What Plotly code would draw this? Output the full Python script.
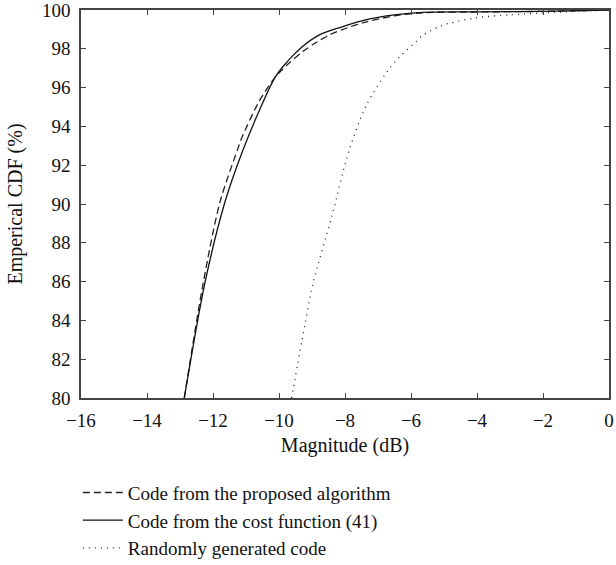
import plotly.graph_objects as go

# Data
proposed_x = [-12.87, -12.30, -11.79, -11.27, -11.13, -10.60, -10.13, -9.70, -9.27, -8.85, -8.46, -7.90, -7.35, -6.50, -5.64, -4.0, -2.0, 0.0]
proposed_y = [80.0, 85.9, 90.09, 92.74, 93.4, 95.3, 96.5, 97.25, 97.87, 98.35, 98.73, 99.1, 99.39, 99.7, 99.86, 99.9, 99.93, 100.0]

cost_x = [-12.87, -12.25, -11.64, -11.10, -10.55, -10.13, -9.87, -9.55, -9.27, -8.76, -8.11, -7.35, -6.50, -5.64, -4.0, -2.0, 0.0]
cost_y = [80.0, 85.9, 90.09, 92.74, 95.0, 96.5, 97.1, 97.7, 98.15, 98.73, 99.12, 99.5, 99.75, 99.88, 99.9, 99.93, 100.0]

random_x = [-9.62, -9.30, -8.97, -8.41, -7.88, -7.35, -6.65, -6.34, -5.84, -5.64, -5.13, -4.83, -4.02, -3.01, -2.10, -1.0, 0.0]
random_y = [80.0, 83.0, 85.9, 89.3, 92.74, 95.1, 97.0, 97.6, 98.38, 98.7, 99.15, 99.32, 99.6, 99.75, 99.84, 99.93, 100.0]

x_ticks = [-16, -14, -12, -10, -8, -6, -4, -2, 0]
y_ticks = [80, 82, 84, 86, 88, 90, 92, 94, 96, 98, 100]

names = ["Code from the proposed algorithm", "Code from the cost function (41)", "Randomly generated code"]

FONT = "Liberation Serif"
FS = 19

fig = go.Figure()
fig.add_trace(go.Scatter(x=proposed_x, y=proposed_y, mode="lines", name=names[0], legendgroup="a",
                         line=dict(color="#222", width=1.3, dash="7px,4px", shape="spline", smoothing=0.8)))
fig.add_trace(go.Scatter(x=cost_x, y=cost_y, mode="lines", name=names[1], legendgroup="b",
                         line=dict(color="#111", width=1.3, shape="spline", smoothing=0.8)))
fig.add_trace(go.Scatter(x=random_x, y=random_y, mode="lines", name=names[2], legendgroup="c",
                         line=dict(color="#222", width=1.3, dash="1px,5px", shape="spline", smoothing=0.8)))

axis_common = dict(showgrid=False, zeroline=False, showline=True, linecolor="#444", linewidth=1.5,
                   mirror="ticks", ticks="inside", ticklen=5, tickwidth=1.2, tickcolor="#444",
                   ticklabeloverflow="allow",
                   tickfont=dict(family=FONT, size=FS, color="#111"))

fig.update_xaxes(range=[-16, 0], tickvals=x_ticks, ticklabelstandoff=4,
                 title=dict(text="Magnitude (dB)", font=dict(family=FONT, size=20, color="#111"), standoff=8),
                 **axis_common)
fig.update_yaxes(range=[80, 100], tickvals=y_ticks, ticklabelstandoff=5,
                 title=dict(text="Emperical CDF (%)", font=dict(family=FONT, size=20, color="#111"), standoff=14),
                 **axis_common)

fig.update_layout(
    width=616, height=565,
    margin=dict(l=81, r=7, t=10, b=167, autoexpand=False),
    paper_bgcolor="white", plot_bgcolor="white",
    font=dict(family=FONT, size=FS, color="#111"),
    showlegend=True,
    legend=dict(x=-0.006, xanchor="left", y=-0.195, yanchor="top", traceorder="grouped",
                tracegroupgap=0, itemwidth=40, bgcolor="rgba(0,0,0,0)",
                font=dict(family=FONT, size=19, color="#111")),
)

fig.write_html("out.html")
